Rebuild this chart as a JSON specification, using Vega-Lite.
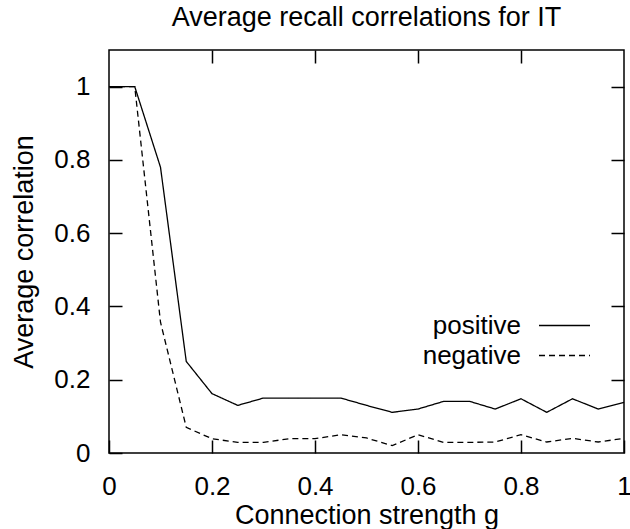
{
  "$schema": "https://vega.github.io/schema/vega-lite/v6.json",
  "width": 515,
  "height": 403,
  "autosize": "none",
  "padding": {"left": 109, "top": 50, "right": 6, "bottom": 76},
  "background": "white",
  "title": {"text": "Average recall correlations for IT", "fontSize": 27, "font": "Liberation Sans", "fontWeight": "normal", "color": "black", "offset": 17, "anchor": "middle"},
  "config": {
    "view": {"stroke": "black", "strokeWidth": 1.5},
    "axis": {"labelFont": "Liberation Sans", "titleFont": "Liberation Sans", "labelFontSize": 26, "titleFontSize": 27, "titleFontWeight": "normal", "labelColor": "black", "titleColor": "black", "domain": false, "grid": false, "tickColor": "black", "tickWidth": 1.5, "tickSize": -13, "format": "~g"}
  },
  "data": {"values": [
    {"g": 0, "c": 1.0, "s": "positive"},
    {"g": 0.05, "c": 1.0, "s": "positive"},
    {"g": 0.1, "c": 0.78, "s": "positive"},
    {"g": 0.15, "c": 0.25, "s": "positive"},
    {"g": 0.2, "c": 0.162, "s": "positive"},
    {"g": 0.25, "c": 0.13, "s": "positive"},
    {"g": 0.3, "c": 0.15, "s": "positive"},
    {"g": 0.35, "c": 0.15, "s": "positive"},
    {"g": 0.4, "c": 0.15, "s": "positive"},
    {"g": 0.45, "c": 0.15, "s": "positive"},
    {"g": 0.5, "c": 0.13, "s": "positive"},
    {"g": 0.55, "c": 0.111, "s": "positive"},
    {"g": 0.6, "c": 0.12, "s": "positive"},
    {"g": 0.65, "c": 0.141, "s": "positive"},
    {"g": 0.7, "c": 0.141, "s": "positive"},
    {"g": 0.75, "c": 0.12, "s": "positive"},
    {"g": 0.8, "c": 0.148, "s": "positive"},
    {"g": 0.85, "c": 0.111, "s": "positive"},
    {"g": 0.9, "c": 0.148, "s": "positive"},
    {"g": 0.95, "c": 0.12, "s": "positive"},
    {"g": 1.0, "c": 0.138, "s": "positive"},
    {"g": 0, "c": 1.0, "s": "negative"},
    {"g": 0.05, "c": 1.0, "s": "negative"},
    {"g": 0.1, "c": 0.357, "s": "negative"},
    {"g": 0.15, "c": 0.07, "s": "negative"},
    {"g": 0.2, "c": 0.039, "s": "negative"},
    {"g": 0.25, "c": 0.029, "s": "negative"},
    {"g": 0.3, "c": 0.029, "s": "negative"},
    {"g": 0.35, "c": 0.039, "s": "negative"},
    {"g": 0.4, "c": 0.039, "s": "negative"},
    {"g": 0.45, "c": 0.05, "s": "negative"},
    {"g": 0.5, "c": 0.041, "s": "negative"},
    {"g": 0.55, "c": 0.02, "s": "negative"},
    {"g": 0.6, "c": 0.05, "s": "negative"},
    {"g": 0.65, "c": 0.029, "s": "negative"},
    {"g": 0.7, "c": 0.029, "s": "negative"},
    {"g": 0.75, "c": 0.03, "s": "negative"},
    {"g": 0.8, "c": 0.05, "s": "negative"},
    {"g": 0.85, "c": 0.03, "s": "negative"},
    {"g": 0.9, "c": 0.04, "s": "negative"},
    {"g": 0.95, "c": 0.03, "s": "negative"},
    {"g": 1.0, "c": 0.04, "s": "negative"}
  ]},
  "layer": [
    {
      "mark": {"type": "line", "color": "black", "strokeWidth": 1.3},
      "encoding": {
        "x": {"field": "g", "type": "quantitative", "scale": {"domain": [0, 1], "nice": false}, "axis": {"orient": "bottom", "values": [0, 0.2, 0.4, 0.6, 0.8, 1], "title": "Connection strength g", "labelPadding": 33, "titlePadding": 3, "labelFlush": false}},
        "y": {"field": "c", "type": "quantitative", "scale": {"domain": [0, 1.1], "nice": false}, "axis": {"orient": "left", "values": [0, 0.2, 0.4, 0.6, 0.8, 1], "title": "Average correlation", "labelPadding": 32, "titlePadding": 15}},
        "strokeDash": {"field": "s", "type": "nominal", "scale": {"domain": ["positive", "negative"], "range": [[1, 0], [6, 4]]},
          "legend": {"title": null, "orient": "none", "legendX": 442, "legendY": 262, "symbolType": "M-2,0H2", "symbolSize": 650, "symbolStrokeColor": "black", "symbolStrokeWidth": 1.3, "labelFont": "Liberation Sans", "labelFontSize": 26, "labelColor": "black", "labelAlign": "right", "labelOffset": -57, "rowPadding": 3}}
      }
    },
    {
      "mark": {"type": "line", "strokeOpacity": 0},
      "encoding": {
        "x": {"field": "g", "type": "quantitative", "axis": {"orient": "top", "values": [0.2, 0.4, 0.6, 0.8], "labels": false, "title": null}},
        "y": {"field": "c", "type": "quantitative", "axis": {"orient": "right", "values": [0.2, 0.4, 0.6, 0.8, 1], "labels": false, "title": null}},
        "detail": {"field": "s"}
      }
    }
  ],
  "resolve": {"axis": {"x": "independent", "y": "independent"}}
}
